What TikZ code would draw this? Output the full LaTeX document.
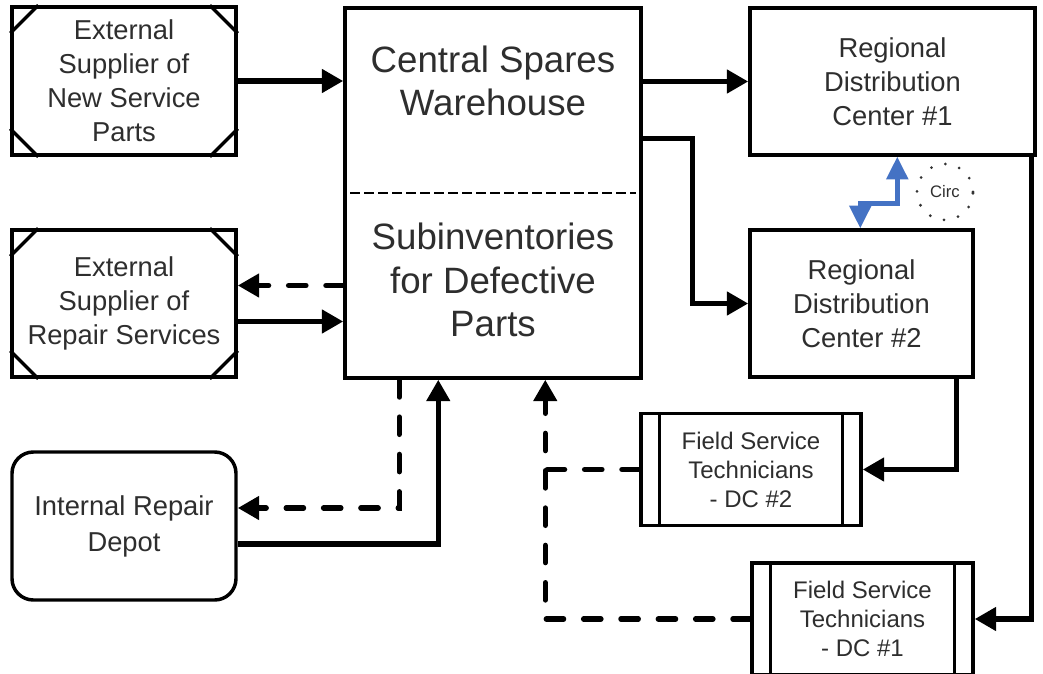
\documentclass[tikz,border=0pt]{standalone}
\usepackage{fontspec}
\setmainfont{Liberation Sans}
\usetikzlibrary{arrows.meta,calc}
\definecolor{txt}{gray}{0.18}
\definecolor{bluearr}{RGB}{68,114,196}
\newcommand{\cornercuts}[1]{%
  \draw[cutline] ($(#1.north west)+(0,28)$) -- ($(#1.north west)+(28,0)$);
  \draw[cutline] ($(#1.north east)+(0,28)$) -- ($(#1.north east)+(-28,0)$);
  \draw[cutline] ($(#1.south west)+(0,-28)$) -- ($(#1.south west)+(28,0)$);
  \draw[cutline] ($(#1.south east)+(0,-28)$) -- ($(#1.south east)+(-28,0)$);}
\newcommand{\sidebars}[1]{%
  \draw[cutline] ($(#1.north west)+(20,0)$) -- ($(#1.south west)+(20,0)$);
  \draw[cutline] ($(#1.north east)+(-20,0)$) -- ($(#1.south east)+(-20,0)$);}
\begin{document}
\begin{tikzpicture}[x=0.75pt,y=-0.75pt,
  box/.style={draw=black, line width=2.6pt, fill=white, inner sep=0pt, align=center, text=txt,
    font=\fontsize{20.5}{25.5}\selectfont},
  fstbox/.style={box, font=\fontsize{18}{21.75}\selectfont},
  lbl/.style={inner sep=0pt, align=center, text=txt, font=\fontsize{27.5}{32.5}\selectfont},
  cutline/.style={line width=2.6pt, line cap=butt},
  conn/.style={line width=4pt, -{Triangle[length=16pt,width=17pt]}},
  dconn/.style={line width=4pt, dash pattern=on 13pt off 15pt, line cap=round, -{Triangle[length=16pt,width=17pt]}},
  dline/.style={line width=4pt, dash pattern=on 13pt off 15pt, line cap=round},
  bconn/.style={line width=3.4pt, draw=bluearr, {Triangle[length=17pt,width=16pt]}-{Triangle[length=17pt,width=16pt]}},
]
\useasboundingbox (0,0) rectangle (1043,674);
\clip (0,0) rectangle (1043,674);

% nodes
\node[box, minimum width=168pt, minimum height=111pt] (extnew) at (124,81) {External\\Supplier of\\New Service\\Parts};
\cornercuts{extnew}
\node[box, minimum width=168pt, minimum height=110.25pt] (extrep) at (124,303.5) {External\\Supplier of\\Repair Services};
\cornercuts{extrep}
\node[box, rounded corners=16pt, minimum width=168pt, minimum height=111pt, font=\fontsize{20.5}{27}\selectfont] (depot) at (124,526) {Internal Repair\\Depot};
\node[box, minimum width=222pt, minimum height=277.5pt] (central) at (493,193) {};
\node[lbl] (ctop) at (493,81) {Central Spares\\Warehouse};
\node[lbl] (cbot) at (493,280) {Subinventories\\for Defective\\Parts};
\draw[line width=1.6pt, dash pattern=on 7pt off 3.5pt] ($(central.west)+(7,0)$) -- ($(central.east)+(-7,0)$);
\node[box, minimum width=213.75pt, minimum height=110.25pt] (rdc1) at (892.5,81.5) {Regional\\Distribution\\Center \#1};
\node[box, minimum width=167.25pt, minimum height=110.25pt] (rdc2) at (861.5,303.5) {Regional\\Distribution\\Center \#2};
\node[fstbox, minimum width=165pt, minimum height=84pt] (fst2) at (751,469.5) {Field Service\\Technicians\\- DC \#2};
\sidebars{fst2}
\node[fstbox, minimum width=165.75pt, minimum height=84pt] (fst1) at (862.5,619) {Field Service\\Technicians\\- DC \#1};
\sidebars{fst1}
\node[circle, draw=black!80, line width=2.3pt, line cap=round, dash pattern=on 0pt off 10.9pt, minimum size=42pt, inner sep=0pt, text=txt, font=\fontsize{12.5}{15}\selectfont] (circ) at (945,192) {Circ};

% connectors
\coordinate (J) at ($(central.south west)+(202,0)$);
\draw[conn] (extnew.east) -- (extnew.east -| central.west);
\draw[conn] (central.east |- rdc1.west) -- (rdc1.west);
\draw[conn, line join=miter] ($(central.north east)+(0,132)$) -| ($(rdc2.west)+(-56,0)$) -- (rdc2.west);
\draw[dconn] (central.west |- {$(extrep.east)+(0,-18)$}) -- ($(extrep.east)+(0,-18)$);
\draw[conn] ($(extrep.east)+(0,18)$) -- (central.west |- {$(extrep.east)+(0,18)$});
\draw[dconn] ($(central.south west)+(56,0)$) |- ($(depot.east)+(0,-18)$);
\draw[conn, line join=miter] ($(depot.east)+(0,18)$) -| ($(central.south west)+(95,0)$);
\draw[conn, line join=miter] ($(rdc2.south east)+(-18,0)$) |- (fst2.east);
\draw[conn, line join=miter] ($(rdc1.south east)+(-5,0)$) |- (fst1.east);
\draw[dline] (fst2.west) -- (fst2.west -| J);
\draw[dconn] (fst1.west) -| (J);
\draw[bconn] ($(rdc2.north west)+(112,0)$) |- ($(rdc1.south west)+(149,47)$) -- ($(rdc1.south west)+(149,0)$);
\end{tikzpicture}
\end{document}
